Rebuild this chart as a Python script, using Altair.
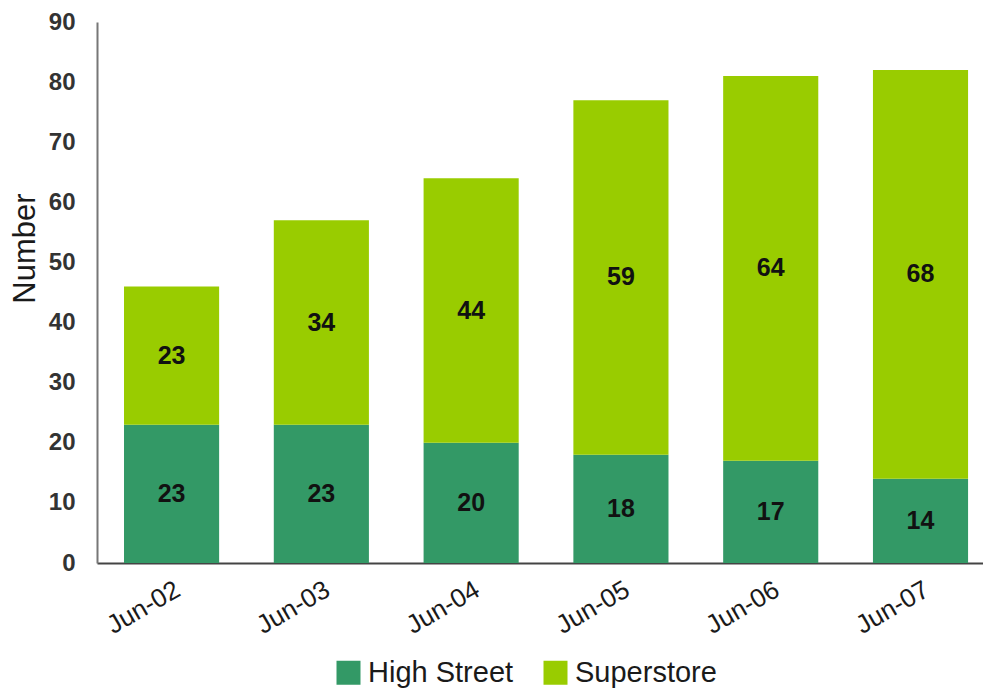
import altair as alt
import pandas as pd

months = ["Jun-02", "Jun-03", "Jun-04", "Jun-05", "Jun-06", "Jun-07"]
high_street = [23, 23, 20, 18, 17, 14]
superstore = [23, 34, 44, 59, 64, 68]
series = ["High Street", "Superstore"]
colors = ["#339966", "#99CC00"]

rows = []
for i, m in enumerate(months):
    rows.append({"month": m, "type": series[0], "value": high_street[i], "ord": 0})
    rows.append({"month": m, "type": series[1], "value": superstore[i], "ord": 1})
df = pd.DataFrame(rows)

FONT = "Liberation Sans"

base = alt.Chart(df).transform_stack(
    stack="value", groupby=["month"], sort=[alt.SortField("ord", order="ascending")], as_=["v0", "v1"]
).transform_calculate(mid="(datum.v0 + datum.v1) / 2")

x = alt.X("month:N", sort=months, title=None,
          scale=alt.Scale(paddingInner=0.365, paddingOuter=0.14, align=0.644),
          axis=alt.Axis(labelAngle=-30, labelFontSize=26, labelFont=FONT, labelColor="#1a1a1a",
                        ticks=False, domainColor="#444444", domainWidth=2, labelPadding=13,
                        labelAlign="right", labelBaseline="top"))

bars = base.mark_bar().encode(
    x=x,
    y=alt.Y("v0:Q", title="Number",
            scale=alt.Scale(domain=[0, 90]),
            axis=alt.Axis(values=list(range(0, 91, 10)), grid=False, ticks=False,
                          labelFontSize=24, labelFont=FONT, labelFontWeight="bold",
                          labelColor="#333333", labelPadding=22,
                          domainColor="#777777", domainWidth=2,
                          titleFontSize=31, titleFont=FONT, titleFontWeight="normal",
                          titleColor="#1a1a1a", titleX=-72, titleY=226, titleAngle=270,
                          titleAlign="center", titleBaseline="middle")),
    y2="v1:Q",
    color=alt.Color("type:N", scale=alt.Scale(domain=series, range=colors), title=None,
                    legend=alt.Legend(orient="none", direction="horizontal", legendX=237, legendY=636,
                                      symbolType="square", symbolSize=576, symbolStrokeWidth=0,
                                      labelFontSize=29, labelFont=FONT, labelColor="#1a1a1a",
                                      columnPadding=27, labelOffset=5)),
)

labels = base.mark_text(fontSize=25, fontWeight="bold", font=FONT, color="#111111").encode(
    x=alt.X("month:N", sort=months),
    y=alt.Y("mid:Q"),
    text="value:Q",
)

chart = alt.layer(bars, labels).properties(
    width=886, height=541,
    autosize=alt.AutoSizeParams(type="none"),
    padding={"left": 89, "top": 14, "right": 0, "bottom": 125},
).configure_view(stroke=None)

chart.save("out.html", embed_options={"renderer": "svg", "actions": False})
